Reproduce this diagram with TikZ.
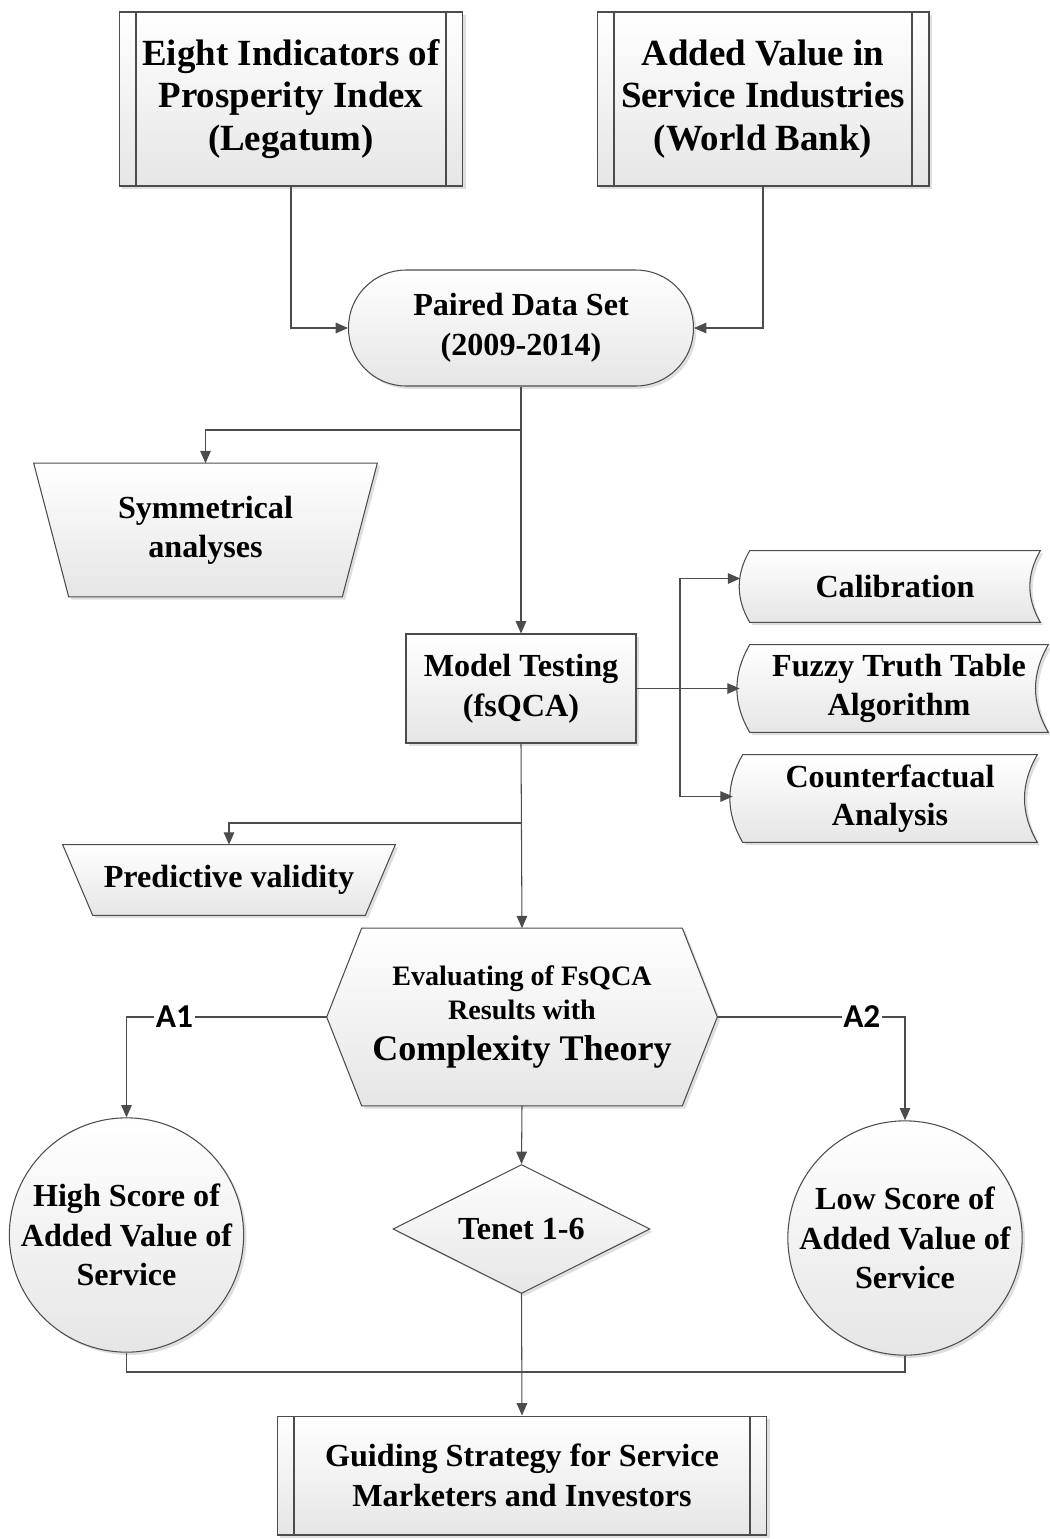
\documentclass[tikz,border=0pt]{standalone}
\usepackage{fontspec}
\setmainfont{Liberation Serif}
\newfontfamily\lblfont{Carlito}
\usepackage{tikz}
\usetikzlibrary{positioning, shapes.geometric, shapes.misc, arrows.meta, calc, backgrounds, shadows}

\begin{document}
\begin{tikzpicture}[x=0.02cm, y=-0.02cm,
        shapefill/.style={draw=black!70, line width=0.6pt, top color=white, bottom color=black!10,
            drop shadow={shadow xshift=1.6pt, shadow yshift=-1.6pt, opacity=0.25}},
        base/.style={shapefill, align=center, inner sep=2pt,
            font=\bfseries\fontsize{18.3}{22.5}\selectfont},
        procbox/.style={base, rectangle},
        termbox/.style={base, rectangle, rounded corners=1.15cm},
        txt/.style={align=center, inner sep=2pt, font=\bfseries\fontsize{18.3}{22}\selectfont},
        decision/.style={base, diamond, aspect=2, inner sep=0pt},
        conn/.style={base, circle, inner sep=0pt, minimum size=4.54cm},
        edge/.style={draw=black!70, line width=0.6pt},
        flow/.style={edge, -{Triangle[length=7pt, width=6pt]}},
        tag/.style={fill=white, inner sep=1pt, font=\lblfont\bfseries\fontsize{19}{20}\selectfont}
    ]
    \useasboundingbox (0,0) rectangle (1049,1539);

    % data sources
    \node[procbox, minimum width=6.88cm, minimum height=3.48cm, font=\bfseries\fontsize{21}{24}\selectfont]
        (indA) at (291,99) {Eight Indicators of\\Prosperity Index\\(Legatum)};
    \node[procbox, minimum width=6.64cm, minimum height=3.48cm, font=\bfseries\fontsize{21}{24}\selectfont]
        (svcB) at (763,99) {Added Value in\\Service Industries\\(World Bank)};
    \node[termbox, minimum width=6.9cm, minimum height=2.32cm] (paired) at (521,328) {Paired Data Set\\(2009-2014)};

    % analyses
    \node[txt, minimum width=6.86cm, minimum height=2.66cm] (symm) at (205.5,530) {Symmetrical\\analyses};
    \node[procbox, minimum width=4.6cm, minimum height=2.18cm] (model) at (521,688.5) {Model Testing\\(fsQCA)};
    \node[txt, minimum width=5.8cm, minimum height=1.42cm] (cal) at (895,586.5) {Calibration};
    \node[txt, minimum width=5.96cm, minimum height=1.74cm] (ftt) at (899,688.5) {Fuzzy Truth Table\\Algorithm};
    \node[txt, minimum width=5.88cm, minimum height=1.74cm] (cfa) at (890,798.5) {Counterfactual\\Analysis};
    \node[txt, minimum width=6.64cm, minimum height=1.4cm] (pred) at (229,880) {Predictive validity};

    % evaluation
    \node[align=center, inner sep=0pt, minimum width=6.4cm, minimum height=3.54cm,
        font=\bfseries\fontsize{16}{19.3}\selectfont] (hex) at (522,1017)
        {Evaluating of FsQCA\\Results with\\[3.6pt]{\fontsize{20.5}{22}\selectfont Complexity Theory}};
    \coordinate (hexL) at ([xshift=-0.7cm]hex.west);
    \coordinate (hexR) at ([xshift=0.7cm]hex.east);
    \node[conn] (hiC) at (126.5,1235) {High Score of\\Added Value of\\Service};
    \node[conn] (loC) at (905,1238) {Low Score of\\Added Value of\\Service};
    \node[decision, minimum width=5.14cm, minimum height=2.58cm] (tenet) at (521.5,1229) {Tenet 1-6};
    \node[procbox, minimum width=9.8cm, minimum height=2.38cm] (guide) at (522,1475.5)
        {Guiding Strategy for Service\\Marketers and Investors};

    % side bars of the process boxes
    \foreach \n in {indA, svcB, guide}
        \draw[edge] ([xshift=0.35cm]\n.north west) -- ([xshift=0.35cm]\n.south west)
                    ([xshift=-0.35cm]\n.north east) -- ([xshift=-0.35cm]\n.south east);

    % outlines drawn behind the texts
    \begin{scope}[on background layer]
        \foreach \n in {cal, ftt, cfa}
            \path[shapefill] (\n.north west) to[bend right=30] (\n.south west) -- (\n.south east)
                to[bend left=30] (\n.north east) -- cycle;
        \path[shapefill] (hex.north west) -- (hex.north east) -- (hexR) -- (hex.south east)
            -- (hex.south west) -- (hexL) -- cycle;
        \path[shapefill] (symm.north west) -- (symm.north east) -- ([xshift=-0.7cm]symm.south east)
            -- ([xshift=0.7cm]symm.south west) -- cycle;
        \path[shapefill] (pred.north west) -- (pred.north east) -- ([xshift=-0.6cm]pred.south east)
            -- ([xshift=0.6cm]pred.south west) -- cycle;
    \end{scope}
    \coordinate (calL) at ([xshift=-0.19cm, yshift=0.16cm]cal.west);
    \coordinate (fttL) at ([xshift=-0.2cm]ftt.west);
    \coordinate (cfaL) at ([xshift=-0.2cm, yshift=0.04cm]cfa.west);

    % connectors
    \draw[flow] (indA.south) |- (paired.west);
    \draw[flow] (svcB.south) |- (paired.east);
    \draw[flow] (paired.south) -- (model.north);
    \coordinate (j1) at (521,430);
    \draw[flow] (j1) -| (symm.north);
    \coordinate (j2) at (680,688.5);
    \draw[edge] (model.east) -- (j2);
    \draw[flow] (j2) |- (calL);
    \draw[flow] (j2) -- (fttL);
    \draw[flow] (j2) |- (cfaL);
    \draw[flow] (model.south) -- (hex.north);
    \coordinate (j3) at (521,823);
    \draw[flow] (j3) -| (pred.north);
    \draw[flow] (hexL) -| (hiC.north) node[tag, pos=0.38] {A1};
    \draw[flow] (hexR) -| (loC.north) node[tag, pos=0.385] {A2};
    \draw[flow] (hex.south) -- (tenet.north);
    \coordinate (j5) at (521,1372);
    \draw[edge] (hiC.south) |- (j5);
    \draw[edge] (loC.south) |- (j5);
    \draw[flow] (tenet.south) -- (guide.north);
\end{tikzpicture}
\end{document}
